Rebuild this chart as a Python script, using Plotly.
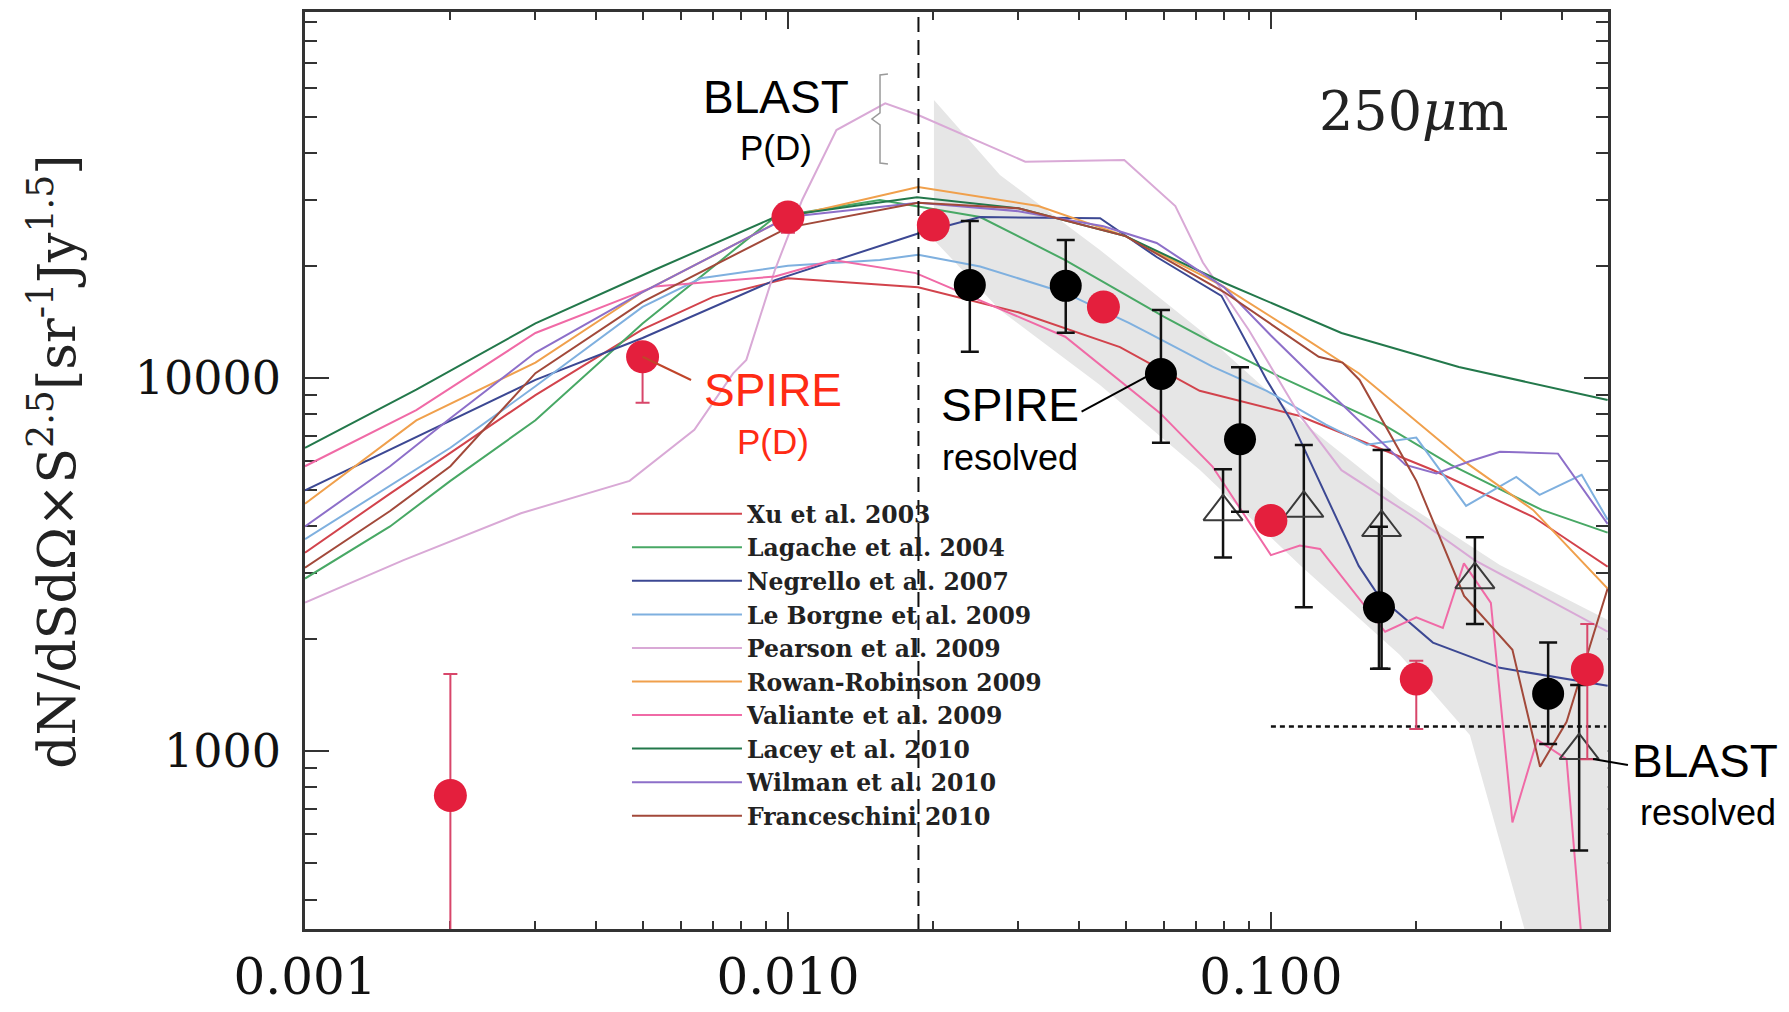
import math
import plotly.graph_objects as go

# ------------------------------------------------------------------ data
X_LOG_RANGE = [-3.0, -0.302]
Y_LOG_RANGE = [2.523, 4.981]

X_TICKS = [0.001, 0.01, 0.1]
X_TICK_TEXT = ["0.001", "0.010", "0.100"]
Y_TICKS = [1000, 10000]
Y_TICK_TEXT = ["1000", "10000"]

MODEL_NAMES = [
    "Xu et al. 2003", "Lagache et al. 2004", "Negrello et al. 2007",
    "Le Borgne et al. 2009", "Pearson et al. 2009", "Rowan-Robinson 2009",
    "Valiante et al. 2009", "Lacey et al. 2010", "Wilman et al. 2010",
    "Franceschini 2010",
]
MODEL_COLORS = [
    "#d2434c", "#48a865", "#3c4893", "#7fb0df", "#d9a9d6",
    "#f0a04c", "#f06aa6", "#23784b", "#8d6fc9", "#a2493a",
]

XU_X = [0.001, 0.0015, 0.002, 0.003, 0.005, 0.007, 0.01, 0.0186, 0.03, 0.0487, 0.0712, 0.1148, 0.2164, 0.3488, 0.498]
XU_Y = [3400, 4900, 6300, 9000, 13500, 16500, 18500, 17500, 15000, 12100, 9240, 7910, 5667, 4246, 3120]

LAG_X = [0.001, 0.0015, 0.002, 0.003, 0.005, 0.0094, 0.0155, 0.025, 0.0375, 0.06, 0.076, 0.104, 0.169, 0.236, 0.364, 0.498]
LAG_Y = [2900, 4000, 5300, 7700, 14000, 27000, 30000, 27000, 20700, 14600, 12400, 10100, 7570, 5850, 4430, 3850]

NEG_X = [0.001, 0.003, 0.005, 0.0094, 0.0186, 0.025, 0.0443, 0.058, 0.079, 0.098, 0.11, 0.152, 0.1674, 0.2165, 0.298, 0.498]
NEG_Y = [5000, 9880, 12800, 18300, 24400, 27000, 26800, 21100, 16600, 9880, 7710, 3135, 2600, 1953, 1671, 1496]

LEB_X = [0.001, 0.002, 0.003, 0.005, 0.0066, 0.01, 0.0155, 0.0186, 0.025, 0.0375, 0.0508, 0.0552, 0.0757, 0.098,
         0.13, 0.158, 0.2, 0.2536, 0.3222, 0.36, 0.44, 0.498]
LEB_Y = [3700, 6500, 9500, 15500, 18500, 20000, 20700, 21400, 19900, 16900, 14050, 13300, 10720, 9240,
         7500, 6620, 6920, 4540, 5430, 4860, 5500, 4170]

PEA_X = [0.001, 0.0016, 0.0028, 0.0047, 0.0064, 0.0077, 0.0082, 0.0094, 0.0107, 0.0126, 0.0159, 0.0186, 0.031,
         0.0497, 0.0634, 0.0723, 0.09, 0.115, 0.14, 0.2, 0.264, 0.498]
PEA_Y = [2500, 3250, 4340, 5300, 7260, 10290, 11180, 19500, 30000, 46200, 54500, 50700, 38000,
         38400, 28900, 20400, 13450, 7910, 5660, 4200, 3250, 2090]

ROW_X = [0.001, 0.0017, 0.003, 0.005, 0.01, 0.0186, 0.033, 0.05, 0.079, 0.11, 0.152, 0.2536, 0.349, 0.498]
ROW_Y = [4600, 7700, 11000, 17000, 27000, 32500, 28900, 24000, 17700, 13500, 10300, 5930, 4430, 2725]

VAL_X = [0.001, 0.0017, 0.003, 0.0053, 0.0094, 0.0124, 0.0184, 0.0249, 0.0375, 0.0589, 0.0757, 0.1, 0.1148,
         0.1264, 0.1724, 0.2, 0.227, 0.251, 0.2854, 0.3163, 0.356, 0.4095, 0.441]
VAL_Y = [5800, 8200, 13200, 17600, 18700, 20700, 19100, 16200, 12900, 8060, 5790, 3350, 3556,
         3480, 2088, 2281, 2137, 3185, 2495, 644, 1072, 951, 300]

LAC_X = [0.001, 0.0017, 0.003, 0.0053, 0.0094, 0.0185, 0.03, 0.05, 0.08, 0.14, 0.245, 0.498]
LAC_Y = [6500, 9300, 14000, 19500, 27000, 30500, 28500, 24000, 18000, 13200, 10700, 8730]

WIL_X = [0.001, 0.0015, 0.002, 0.003, 0.005, 0.01, 0.0186, 0.03, 0.045, 0.058, 0.08, 0.1, 0.125, 0.152,
         0.19, 0.22, 0.26, 0.298, 0.393, 0.498]
WIL_Y = [4000, 5800, 7800, 11700, 17000, 27000, 29500, 28000, 25500, 23000, 17500, 13000, 9800, 7710,
         5850, 5545, 6000, 6340, 6270, 4064]

FRA_X = [0.001, 0.0015, 0.002, 0.003, 0.005, 0.01, 0.0186, 0.03, 0.05, 0.08, 0.1256, 0.1407, 0.1526, 0.2,
         0.2512, 0.3163, 0.3608, 0.4095, 0.498]
FRA_Y = [3100, 4400, 5800, 10300, 16000, 25300, 29500, 28500, 24000, 17000, 11400, 11000, 9880, 5305,
         2606, 1868, 908, 1198, 2725]

MODEL_X = [XU_X, LAG_X, NEG_X, LEB_X, PEA_X, ROW_X, VAL_X, LAC_X, WIL_X, FRA_X]
MODEL_Y = [XU_Y, LAG_Y, NEG_Y, LEB_Y, PEA_Y, ROW_Y, VAL_Y, LAC_Y, WIL_Y, FRA_Y]

# shaded region (upper edge left->right, lower edge left->right)
BAND_UP_X = [0.02006, 0.02748, 0.04426, 0.07129, 0.1148, 0.185, 0.2979, 0.4983]
BAND_UP_Y = [55640, 35020, 22040, 13450, 7716, 4709, 3153, 2245]
BAND_LO_X = [0.02006, 0.02748, 0.04426, 0.07129, 0.1148, 0.185, 0.2582, 0.3357, 0.4983]
BAND_LO_Y = [23440, 15220, 9580, 5667, 3153, 1809, 1104, 330, 330]

# SPIRE P(D) (red)
SPD_X = [0.002, 0.005, 0.01, 0.02, 0.045, 0.1, 0.2, 0.452]
SPD_Y = [760, 11400, 27000, 25700, 15500, 4150, 1560, 1655]
SPD_HI = [1610, 11400, 27000, 25700, 15500, 4150, 1745, 2190]
SPD_LO = [200, 8580, 24500, 25700, 15500, 3950, 1145, 950]

# SPIRE resolved (black)
SRES_X = [0.0238, 0.0376, 0.0592, 0.0863, 0.1674, 0.375]
SRES_Y = [17740, 17660, 10250, 6850, 2428, 1424]
SRES_HI = [26370, 23440, 15220, 10680, 3990, 1953]
SRES_LO = [11760, 13226, 6706, 4381, 1661, 1044]

# BLAST resolved (open triangles)
BRES_X = [0.0796, 0.117, 0.1695, 0.2645, 0.4348]
BRES_Y = [4380, 4475, 3974, 2880, 1003]
BRES_HI = [5690, 6613, 6408, 3743, 1503]
BRES_LO = [3304, 2428, 1661, 2192, 541]

BLAST_PD_FLUX = 0.01863          # vertical dashed line
DOTTED_LEVEL = 1164              # horizontal dotted line
DOTTED_X = [0.1, 0.495]

# label leader lines (data coordinates of their two ends)
RED_LEADER_X = [0.005, 0.0063]
RED_LEADER_Y = [11400, 9876]
BLK_LEADER_X = [0.04055, 0.05528]
BLK_LEADER_Y = [8124, 10080]

# ------------------------------------------------------------------ figure
fig = go.Figure()

fig.add_trace(go.Scatter(
    x=BAND_UP_X + BAND_LO_X[::-1], y=BAND_UP_Y + BAND_LO_Y[::-1],
    fill="toself", fillcolor="#e6e6e6", line=dict(width=0),
    mode="lines", showlegend=False, hoverinfo="skip"))

for name, col, xs, ys in zip(MODEL_NAMES, MODEL_COLORS, MODEL_X, MODEL_Y):
    fig.add_trace(go.Scatter(x=xs, y=ys, mode="lines", name=name,
                             line=dict(color=col, width=2)))

ymin, ymax = 10 ** Y_LOG_RANGE[0], 10 ** Y_LOG_RANGE[1]
fig.add_trace(go.Scatter(x=[BLAST_PD_FLUX, BLAST_PD_FLUX], y=[ymin, ymax], mode="lines",
                         line=dict(color="#111", width=2, dash="15px,8px"),
                         showlegend=False, hoverinfo="skip"))
fig.add_trace(go.Scatter(x=DOTTED_X, y=[DOTTED_LEVEL, DOTTED_LEVEL], mode="lines",
                         line=dict(color="#111", width=2.5, dash="5px,4px"),
                         showlegend=False, hoverinfo="skip"))


def err(y, hi, lo):
    return [h - v for v, h in zip(y, hi)], [v - l for v, l in zip(y, lo)]


p, m = err(BRES_Y, BRES_HI, BRES_LO)
fig.add_trace(go.Scatter(
    x=BRES_X, y=BRES_Y, mode="markers", showlegend=False,
    marker=dict(symbol="triangle-up-open", size=34, color="#3a3a3a", line=dict(width=2)),
    error_y=dict(type="data", symmetric=False, array=p, arrayminus=m,
                 color="#111", thickness=2.5, width=9)))

p, m = err(SRES_Y, SRES_HI, SRES_LO)
fig.add_trace(go.Scatter(
    x=SRES_X, y=SRES_Y, mode="markers", showlegend=False,
    marker=dict(symbol="circle", size=32, color="#000"),
    error_y=dict(type="data", symmetric=False, array=p, arrayminus=m,
                 color="#111", thickness=2.5, width=9)))

p, m = err(SPD_Y, SPD_HI, SPD_LO)
fig.add_trace(go.Scatter(
    x=SPD_X, y=SPD_Y, mode="markers", showlegend=False,
    marker=dict(symbol="circle", size=33, color="#e41f3d"),
    error_y=dict(type="data", symmetric=False, array=p, arrayminus=m,
                 color="#d8466a", thickness=2, width=7)))

fig.add_trace(go.Scatter(x=RED_LEADER_X, y=RED_LEADER_Y, mode="lines",
                         line=dict(color="#c0452a", width=2), showlegend=False, hoverinfo="skip"))
fig.add_trace(go.Scatter(x=BLK_LEADER_X, y=BLK_LEADER_Y, mode="lines",
                         line=dict(color="#000", width=2), showlegend=False, hoverinfo="skip"))

AX_COLOR = "#333"
x_minor = [k * 10 ** e for e in (-3, -2, -1) for k in range(2, 10)]
y_minor = [k * 10 ** e for e in (2, 3, 4) for k in range(2, 10)]

fig.update_xaxes(
    type="log", range=X_LOG_RANGE, tickmode="array", tickvals=X_TICKS, ticktext=X_TICK_TEXT,
    ticks="inside", ticklen=17, tickwidth=2, tickcolor=AX_COLOR, mirror="ticks",
    showline=True, linecolor=AX_COLOR, linewidth=2.5, showgrid=False, zeroline=False,
    layer="below traces", ticklabelstandoff=2, automargin=False,
    tickfont=dict(family="DejaVu Serif", size=50, color="#111"),
    minor=dict(tickmode="array", tickvals=x_minor, ticks="inside", ticklen=8,
               tickwidth=1.5, tickcolor=AX_COLOR, showgrid=False))
fig.update_yaxes(
    type="log", range=Y_LOG_RANGE, tickmode="array", tickvals=Y_TICKS, ticktext=Y_TICK_TEXT,
    ticks="inside", ticklen=24, tickwidth=2, tickcolor=AX_COLOR, mirror="ticks",
    showline=True, linecolor=AX_COLOR, linewidth=2.5, showgrid=False, zeroline=False,
    layer="below traces", ticklabelstandoff=12, automargin=False,
    tickfont=dict(family="DejaVu Serif", size=46, color="#111"),
    minor=dict(tickmode="array", tickvals=y_minor, ticks="inside", ticklen=12,
               tickwidth=1.5, tickcolor=AX_COLOR, showgrid=False))

SANS = "Liberation Sans, Arial, sans-serif"
ann = [
    dict(text="BLAST", x=0.3615, y=0.9073, size=46, color="#000"),
    dict(text="P(D)", x=0.3615, y=0.8517, size=35, color="#000"),
    dict(text="SPIRE", x=0.3588, y=0.5878, size=46, color="#ff2b14"),
    dict(text="P(D)", x=0.3588, y=0.5315, size=35, color="#ff2b14"),
    dict(text="SPIRE", x=0.541, y=0.5714, size=46, color="#000"),
    dict(text="resolved", x=0.541, y=0.5147, size=36, color="#000"),
    dict(text="BLAST", x=1.0745, y=0.1832, size=46, color="#000"),
    dict(text="resolved", x=1.0768, y=0.1265, size=36, color="#000"),
]
annotations = [dict(text=a["text"], x=a["x"], y=a["y"], xref="paper", yref="paper",
                    xanchor="center", yanchor="middle", showarrow=False,
                    font=dict(family=SANS, size=a["size"], color=a["color"])) for a in ann]
annotations.append(dict(text="250<i>μ</i>m", x=0.851, y=0.892, xref="paper", yref="paper",
                        xanchor="center", yanchor="middle", showarrow=False,
                        font=dict(family="DejaVu Serif", size=54, color="#222")))
annotations.append(dict(
    text="dN/dSdΩ×S<sup>2.5</sup>[sr<sup>-1</sup>Jy<sup>1.5</sup>]",
    x=-0.193, y=0.509, xref="paper", yref="paper", xanchor="center", yanchor="middle",
    textangle=-90, showarrow=False, font=dict(family="DejaVu Serif", size=52, color="#222")))

fig.update_layout(
    width=1789, height=1012, autosize=False,
    margin=dict(l=305, r=181, t=12, b=83, pad=0),
    paper_bgcolor="white", plot_bgcolor="white",
    annotations=annotations,
    shapes=[
        dict(type="path", xref="paper", yref="paper",
             path="M 0.4474,0.9324 L 0.4413,0.9313 L 0.4413,0.8899 L 0.4351,0.8833 "
                  "L 0.4413,0.8768 L 0.4413,0.8353 L 0.4474,0.8342",
             line=dict(color="#9a9a9a", width=1.5)),
        dict(type="line", xref="paper", yref="paper", x0=0.9885, y0=0.1854, x1=1.0153, y1=0.1788,
             line=dict(color="#000", width=2)),
    ],
    legend=dict(x=0.2471, y=0.4766, xanchor="left", yanchor="top",
                bgcolor="rgba(0,0,0,0)", borderwidth=0, itemwidth=110,
                font=dict(family="DejaVu Serif", size=23.5, color="#222", weight="bold"),
                tracegroupgap=0),
    showlegend=True,
)

fig.write_html("out.html")
